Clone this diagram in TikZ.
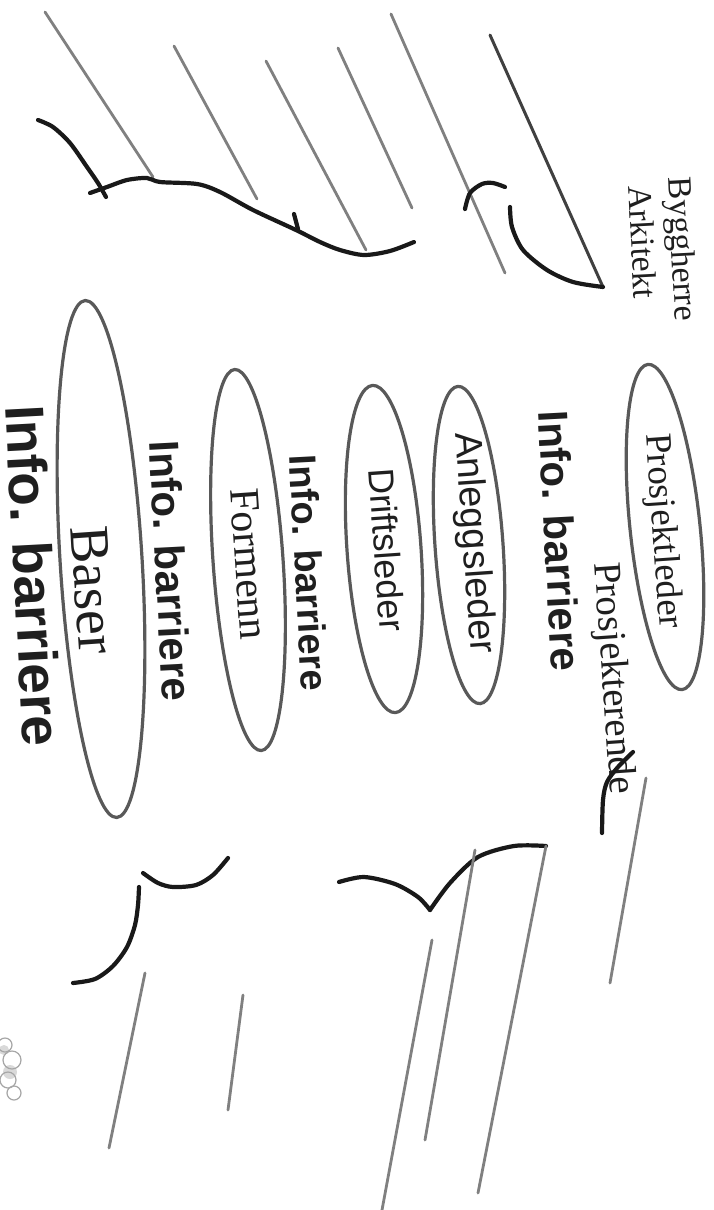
\documentclass[tikz,border=0pt]{standalone}
\usepackage{fontspec}
\setmainfont{Liberation Serif}
\setsansfont{Liberation Sans}
\usetikzlibrary{shapes.geometric}
\begin{document}
\begin{tikzpicture}[x=1pt,y=-1pt,
  grayline/.style={draw=black!50, line width=2.8pt, line cap=round},
  ink/.style={draw=black!90, line width=4.2pt, line cap=round, line join=round},
  oval/.style={ellipse, draw=black!65, line width=3.2pt, inner sep=0pt},
  lab/.style={inner sep=0pt, text=black!88},
  serifl/.style={lab, font=\rmfamily\fontsize{#1}{#1}\selectfont},
  sansl/.style={lab, font=\sffamily\fontsize{#1}{#1}\selectfont},
  barl/.style={lab, font=\sffamily\bfseries\fontsize{#1}{#1}\selectfont},
]
\fill[white] (0,0) rectangle (714,1210);
\useasboundingbox (0,0) rectangle (714,1210);

% ---------- top hatching ----------
\draw[grayline] (45,12) -- (153,177);
\draw[grayline] (174,46) -- (257,199);
\draw[grayline] (266,61) -- (366,250);
\draw[grayline] (338,48) -- (412,208);
\draw[grayline] (391,14) -- (505,273);
\draw[draw=black!75, line width=3pt, line cap=round] (490,35) -- (603,287);

\draw[ink] plot[smooth] coordinates {(38,120) (53,127) (70,143) (87,167) (98,183) (106,197)};
\draw[ink] plot[smooth] coordinates {(90,193) (107,187) (127,180) (147,178) (160,182) (197,184) (220,192) (253,210) (296,230) (320,242) (340,250) (364,255) (390,251) (414,242)};
\draw[ink] (294,214) -- (298,229);
\draw[ink] plot[smooth] coordinates {(465,209) (470,193) (482,184) (493,183) (505,187)};
\draw[ink] plot[smooth] coordinates {(510,207) (512,227) (523,250) (547,270) (573,282) (603,287)};

% ---------- labels top ----------
\node[serifl=34, rotate=-87] (bygg) at (680,249) {Byggherre};
\node[serifl=34, rotate=-87] (ark) at (643,242) {Arkitekt};

% ---------- ellipses ----------
\node[oval, minimum width=327pt, minimum height=70pt, rotate=-84] (e1) at (665,527) {};
\node[oval, minimum width=318pt, minimum height=68pt, rotate=-86] (e2) at (469,545) {};
\node[oval, minimum width=328pt, minimum height=74pt, rotate=-86] (e3) at (384,549) {};
\node[oval, minimum width=382pt, minimum height=70pt, rotate=-86] (e4) at (248,560) {};
\node[oval, minimum width=518pt, minimum height=82pt, rotate=-86.5] (e5) at (101,559) {};

\node[serifl=37, rotate=-86] (t1) at (662,531) {Prosjektleder};
\node[sansl=38, rotate=-86] (t2) at (473,543) {Anleggsleder};
\node[sansl=36, rotate=-86] (t3) at (387,550) {Driftsleder};
\node[serifl=42, rotate=-86] (t4) at (249,564) {Formenn};
\node[serifl=56, rotate=-86] (t5) at (93,590) {Baser};

\node[serifl=39, rotate=-86] (proj) at (612,678) {Prosjekterende};

\node[barl=42, rotate=-87] (b1) at (560,541) {Info. barriere};
\node[barl=38, rotate=-87] (b2) at (309,573) {Info. barriere};
\node[barl=42, rotate=-87] (b3) at (171,571) {Info. barriere};
\node[barl=55, rotate=-87] (b4) at (34,576) {Info. barriere};

% ---------- bottom ----------
\draw[ink] plot[smooth] coordinates {(633,752) (618,767) (607,782) (603,800) (602,833)};
\draw[grayline] (646,778) -- (610,983);

\draw[ink] plot[smooth] coordinates {(339,882) (364,877) (395,884) (418,897) (430,910)};
\draw[ink] plot[smooth] coordinates {(430,910) (450,883) (478,857) (514,846) (546,846)};
\draw[grayline] (546,846) -- (478,1193);
\draw[grayline] (475,850) -- (425,1140);
\draw[grayline] (432,940) -- (382,1210);

\draw[ink] plot[smooth] coordinates {(143,873) (158,883) (173,887) (196,885) (213,875) (228,858)};
\draw[ink] plot[smooth] coordinates {(139,887) (138,905) (135,925) (127,947) (113,966) (95,979) (73,983)};
\draw[grayline] (145,973) -- (109,1148);
\draw[grayline] (243,995) -- (228,1110);

% scan smudge
\begin{scope}[draw=black!35, line width=1.2pt]
  \fill[black!15] (4,1050) circle (5pt) (10,1072) circle (7pt);
  \draw (5,1045) circle (7pt);
  \draw (12,1060) circle (9pt);
  \draw (8,1080) circle (8pt);
  \draw (14,1093) circle (7pt);
\end{scope}
\end{tikzpicture}
\end{document}
